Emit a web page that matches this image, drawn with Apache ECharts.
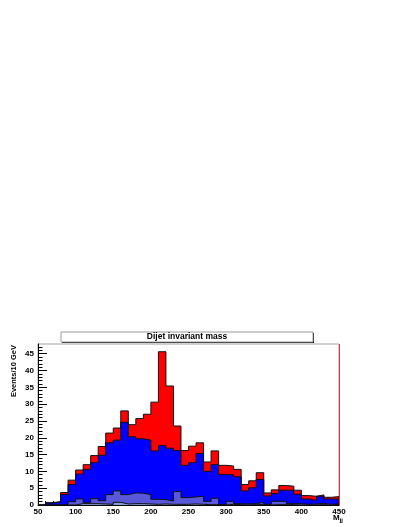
<!DOCTYPE html>
<html>
<head>
<meta charset="utf-8">
<script src="https://cdn.jsdelivr.net/npm/echarts@6/dist/echarts.min.js"></script>
<style>
  html, body { margin: 0; padding: 0; background: #fff; }
  #chart { width: 407px; height: 527px; }
</style>
</head>
<body>
<div id="chart"></div>
<script>
// bin lower edges, 10 GeV wide
const binStarts = [50, 60, 70, 80, 90, 100, 110, 120, 130, 140,
  150, 160, 170, 180, 190, 200, 210, 220, 230, 240,
  250, 260, 270, 280, 290, 300, 310, 320, 330, 340,
  350, 360, 370, 380, 390, 400, 410, 420, 430, 440]

// stacked heights (as drawn by the stack, each one includes the ones below)
const redTop = [0, 0.7, 1.0, 3.7, 7.4, 10.4, 12.0, 14.7, 17.4, 21.4,
  22.9, 28.0, 23.9, 25.7, 27.0, 30.6, 45.6, 35.4, 23.5, 16.2,
  17.5, 18.5, 12.8, 16.1, 11.8, 11.6, 10.6, 6.1, 7.2, 9.6,
  3.6, 4.5, 5.8, 5.6, 4.4, 2.8, 2.6, 3.0, 2.3, 2.5]
const blueTop = [0, 0.6, 0.9, 3.1, 6.1, 9.2, 10.6, 12.6, 14.8, 18.5,
  19.3, 24.6, 20.3, 19.7, 19.3, 16.1, 17.7, 16.9, 16.2, 11.8,
  12.6, 15.3, 10.0, 12.0, 9.1, 9.0, 8.4, 4.2, 5.1, 7.6,
  2.7, 3.4, 4.4, 4.4, 3.2, 1.8, 1.4, 2.6, 1.8, 1.8]
const purpleTop = [0, 0, 0, 0.2, 1.0, 1.8, 0.7, 1.9, 1.3, 3.1,
  4.2, 3.1, 3.6, 3.5, 3.1, 1.7, 1.6, 1.2, 4.0, 2.2,
  2.4, 2.6, 1.1, 2.0, 0.1, 1.1, 0.4, 0.3, 0.4, 0.8,
  0.2, 1.1, 1.1, 0.4, 0.4, 0.2, 0.3, 0.5, 0.2, 0.3]
const slateTop = [0, 0, 0, 0, 0, 0.4, 0.4, 0.4, 0.3, 0.2,
  0.8, 0.3, 0.4, 0.4, 0.3, 0.2, 0.3, 0.2, 0.2, 0.2,
  0.3, 0.2, 0.1, 0.1, 0, 0.2, 0.1, 0, 0.1, 0.1,
  0, 0.1, 0.1, 0.1, 0, 0, 0, 0.1, 0, 0]

const xTicks = [50, 100, 150, 200, 250, 300, 350, 400, 450]
const yMajor = [0, 5, 10, 15, 20, 25, 30, 35, 40, 45]
const yMinor = []
for (let i = 0; i <= 47; i++) yMinor.push(i)

function stepData (tops) {
  const pts = [[binStarts[0], 0]]
  binStarts.forEach((x, i) => pts.push([x, tops[i]]))
  pts.push([450, tops[tops.length - 1]])
  pts.push([450, 0])
  return pts
}

function layer (name, tops, color) {
  return {
    name: name,
    type: 'line',
    step: 'end',
    symbol: 'none',
    data: stepData(tops),
    lineStyle: { color: '#111', width: 1 },
    areaStyle: { color: color, opacity: 1 },
    emphasis: { disabled: true }
  }
}

const font = 'Liberation Sans, Arial, sans-serif'

const redLayer = layer('red', redTop, '#ff0000')
redLayer.clip = false
// red right edge of the frame, as in the original
redLayer.markLine = {
  silent: true,
  symbol: 'none',
  z: 20,
  label: { show: false },
  lineStyle: { color: '#e03030', width: 1, type: 'solid' },
  data: [{ xAxis: 450 }]
}

const chart = echarts.init(document.getElementById('chart'))
chart.setOption({
  animation: false,
  grid: { left: 38, right: 68, top: 344, bottom: 22, show: true, borderColor: '#a0a0a0', borderWidth: 1, backgroundColor: 'transparent' },
  xAxis: [{
    type: 'value',
    min: 50,
    max: 450,
    interval: 50,
    axisLine: { show: true, lineStyle: { color: '#000', width: 1 } },
    axisTick: { show: true, inside: true, length: 8, lineStyle: { color: '#000' } },
    minorTick: { show: true, splitNumber: 5, length: 4, lineStyle: { color: '#000' } },
    axisLabel: {
      color: '#000', fontSize: 8, fontWeight: 'bold', fontFamily: font, margin: 3,
      customValues: xTicks
    },
    splitLine: { show: false }
  }],
  yAxis: [{
    type: 'value',
    min: 0,
    max: 47.9,
    position: 'left',
    offset: 0,
    axisLine: { show: true, onZero: false, lineStyle: { color: '#000', width: 1 } },
    axisTick: { show: true, inside: true, length: 9, customValues: yMajor, lineStyle: { color: '#000' } },
    axisLabel: {
      color: '#000', fontSize: 8, fontWeight: 'bold', fontFamily: font, margin: 4,
      customValues: yMajor
    },
    splitLine: { show: false }
  }, {
    type: 'value',
    min: 0,
    max: 47.9,
    position: 'left',
    offset: 0,
    axisLine: { show: false, onZero: false },
    axisTick: { show: true, inside: true, length: 4.5, customValues: yMinor, lineStyle: { color: '#000' } },
    axisLabel: { show: false },
    splitLine: { show: false }
  }],
  series: [
    redLayer,
    layer('blue', blueTop, '#0000ff'),
    layer('purple', purpleTop, '#5858d8'),
    layer('slate', slateTop, '#7f9fd6')
  ],
  graphic: [
    // title box with ROOT style shadow
    { type: 'rect', shape: { x: 62, y: 333, width: 252, height: 10 }, style: { fill: '#000' }, silent: true },
    { type: 'rect', shape: { x: 61, y: 332, width: 252, height: 10 }, style: { fill: '#fff', stroke: '#999', lineWidth: 1 }, silent: true },
    {
      type: 'text', x: 187, y: 337, silent: true,
      style: {
        text: 'Dijet invariant mass', fill: '#000', font: 'bold 8.5px ' + font,
        align: 'center', verticalAlign: 'middle'
      }
    },
    {
      type: 'text', x: 14, y: 345, rotation: Math.PI / 2, silent: true,
      style: {
        text: 'Events/10 GeV', fill: '#000', font: 'bold 7.5px ' + font,
        align: 'right', verticalAlign: 'middle'
      }
    },
    {
      type: 'text', x: 333, y: 513, silent: true,
      style: {
        text: '{m|M}{s|jj}',
        rich: {
          m: { fontSize: 8, fontWeight: 'bold', fontFamily: font, fill: '#000' },
          s: { fontSize: 6, fontWeight: 'bold', fontFamily: font, fill: '#000', padding: [4, 0, 0, 0] }
        }
      }
    }
  ]
})
</script>
</body>
</html>
